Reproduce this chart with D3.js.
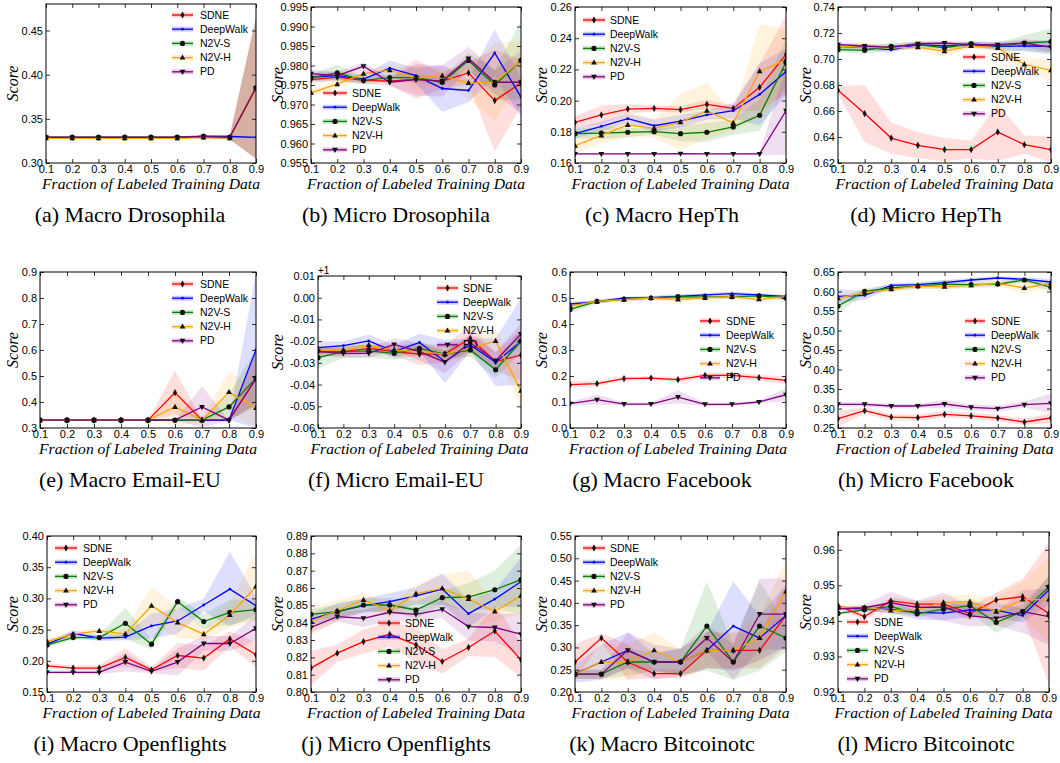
<!DOCTYPE html>
<html>
<head>
<meta charset="utf-8">
<script src="https://cdnjs.cloudflare.com/ajax/libs/d3/7.8.5/d3.min.js"></script>
<style>
    body { margin: 0; background: #fff; }
    svg text { font-family: "Liberation Sans", Arial, sans-serif; fill: #000; }
    .serif { font-family: "Liberation Serif", "Times New Roman", serif !important; }
</style>
</head>
<body>
<div id="chart"></div>
<script>
const fractions = [0.1, 0.2, 0.3, 0.4, 0.5, 0.6, 0.7, 0.8, 0.9];
const methods = ['SDNE', 'DeepWalk', 'N2V-S', 'N2V-H', 'PD'];

// (a) Macro Drosophila
const aMean = [
    [0.329, 0.329, 0.329, 0.329, 0.329, 0.329, 0.330, 0.329, 0.385],
    [0.329, 0.329, 0.329, 0.329, 0.329, 0.329, 0.330, 0.330, 0.329],
    [0.329, 0.329, 0.329, 0.329, 0.329, 0.329, 0.330, 0.329, 0.385],
    [0.328, 0.328, 0.328, 0.328, 0.328, 0.328, 0.329, 0.328, 0.384],
    [0.329, 0.329, 0.329, 0.329, 0.329, 0.329, 0.330, 0.329, 0.385]
];
const aStd = [
    [0.001, 0.001, 0.001, 0.001, 0.001, 0.001, 0.002, 0.002, 0.08],
    [0.001, 0.001, 0.001, 0.001, 0.001, 0.001, 0.001, 0.001, 0.001],
    [0.001, 0.001, 0.001, 0.001, 0.001, 0.001, 0.002, 0.002, 0.08],
    [0.001, 0.001, 0.001, 0.001, 0.001, 0.001, 0.002, 0.002, 0.08],
    [0.001, 0.001, 0.001, 0.001, 0.001, 0.001, 0.002, 0.002, 0.08]
];
const aTicks = [0.30, 0.35, 0.40, 0.45];

// (b) Micro Drosophila
const bMean = [
    [0.9764, 0.9770, 0.9762, 0.9760, 0.9765, 0.9760, 0.9781, 0.9710, 0.9755],
    [0.9770, 0.9774, 0.9765, 0.9793, 0.9774, 0.9741, 0.9736, 0.9832, 0.9719],
    [0.9769, 0.9781, 0.9762, 0.9769, 0.9769, 0.9757, 0.9813, 0.9750, 0.9813],
    [0.9730, 0.9752, 0.9779, 0.9788, 0.9768, 0.9774, 0.9755, 0.9757, 0.9813],
    [0.9779, 0.9774, 0.9798, 0.9757, 0.9764, 0.9760, 0.9818, 0.9757, 0.9757]
];
const bStd = [
    [0.001, 0.001, 0.001, 0.001, 0.005, 0.002, 0.003, 0.013, 0.006],
    [0.001, 0.001, 0.001, 0.002, 0.002, 0.006, 0.003, 0.006, 0.005],
    [0.001, 0.002, 0.001, 0.001, 0.001, 0.001, 0.002, 0.004, 0.01],
    [0.001, 0.001, 0.001, 0.001, 0.003, 0.002, 0.004, 0.01, 0.005],
    [0.001, 0.001, 0.001, 0.001, 0.004, 0.004, 0.003, 0.003, 0.008]
];
const bTicks = [0.955, 0.960, 0.965, 0.970, 0.975, 0.980, 0.985, 0.990, 0.995];

// (c) Macro HepTh
const cMean = [
    [0.1860, 0.1908, 0.1946, 0.1950, 0.1942, 0.1976, 0.1950, 0.2085, 0.2295],
    [0.1788, 0.1835, 0.1884, 0.1839, 0.1869, 0.1908, 0.1935, 0.2040, 0.2186],
    [0.1788, 0.1792, 0.1797, 0.1801, 0.1788, 0.1797, 0.1831, 0.1906, 0.2245],
    [0.1711, 0.1777, 0.1844, 0.1822, 0.1861, 0.1935, 0.1856, 0.2188, 0.2262],
    [0.1658, 0.1658, 0.1658, 0.1658, 0.1660, 0.1658, 0.1658, 0.1658, 0.1935]
];
const cStd = [
    [0.004, 0.006, 0.003, 0.002, 0.002, 0.003, 0.002, 0.015, 0.025],
    [0.003, 0.003, 0.003, 0.004, 0.004, 0.003, 0.005, 0.02, 0.015],
    [0.003, 0.004, 0.003, 0.002, 0.005, 0.006, 0.005, 0.01, 0.015],
    [0.005, 0.005, 0.008, 0.006, 0.018, 0.018, 0.005, 0.03, 0.02],
    [0.0003, 0.0003, 0.0003, 0.0003, 0.0003, 0.0003, 0.0003, 0.001, 0.028]
];
const cTicks = [0.16, 0.18, 0.20, 0.22, 0.24, 0.26];

// (d) Micro HepTh
const dMean = [
    [0.676, 0.658, 0.6392, 0.6336, 0.6303, 0.6303, 0.6438, 0.6341, 0.6303],
    [0.7097, 0.709, 0.707, 0.711, 0.710, 0.711, 0.7097, 0.710, 0.7097],
    [0.7072, 0.7067, 0.7097, 0.711, 0.7085, 0.7118, 0.7097, 0.7123, 0.7133],
    [0.710, 0.709, 0.7085, 0.709, 0.706, 0.710, 0.7085, 0.6958, 0.6913],
    [0.711, 0.710, 0.709, 0.7118, 0.7123, 0.711, 0.711, 0.7123, 0.709]
];
const dStd = [
    [0.003, 0.022, 0.012, 0.01, 0.009, 0.007, 0.022, 0.007, 0.01],
    [0.002, 0.002, 0.002, 0.002, 0.002, 0.002, 0.003, 0.004, 0.005],
    [0.002, 0.003, 0.003, 0.002, 0.003, 0.002, 0.003, 0.006, 0.01],
    [0.002, 0.002, 0.002, 0.002, 0.004, 0.002, 0.003, 0.005, 0.008],
    [0.002, 0.002, 0.002, 0.002, 0.002, 0.002, 0.002, 0.003, 0.004]
];
const dTicks = [0.62, 0.64, 0.66, 0.68, 0.70, 0.72, 0.74];

// (e) Macro Email-EU
const eMean = [
    [0.33, 0.33, 0.33, 0.33, 0.33, 0.436, 0.33, 0.33, 0.49],
    [0.33, 0.33, 0.33, 0.33, 0.33, 0.33, 0.33, 0.33, 0.601],
    [0.33, 0.33, 0.33, 0.33, 0.33, 0.33, 0.33, 0.381, 0.492],
    [0.33, 0.33, 0.33, 0.33, 0.33, 0.381, 0.33, 0.438, 0.377],
    [0.33, 0.33, 0.33, 0.33, 0.33, 0.33, 0.381, 0.33, 0.49]
];
const eStd = [
    [0, 0, 0, 0, 0, 0.085, 0, 0.005, 0.1],
    [0, 0, 0, 0, 0, 0, 0, 0, 0.3],
    [0, 0, 0, 0, 0, 0, 0, 0.05, 0.11],
    [0, 0, 0, 0, 0, 0.07, 0.01, 0.08, 0.07],
    [0, 0, 0, 0, 0, 0, 0.08, 0, 0.1]
];
const eTicks = [0.3, 0.4, 0.5, 0.6, 0.7, 0.8, 0.9];

// (f) Micro Email-EU (values shown with a +1 offset)
const fMean = [
    [-0.0248, -0.0248, -0.0233, -0.0248, -0.0260, -0.0260, -0.0187, -0.0294, -0.0264],
    [-0.0230, -0.0221, -0.0199, -0.0248, -0.0206, -0.0294, -0.0218, -0.0297, -0.0202],
    [-0.0276, -0.0248, -0.0245, -0.0256, -0.0233, -0.0260, -0.0241, -0.0332, -0.0199],
    [-0.0241, -0.0241, -0.0218, -0.0241, -0.0248, -0.0260, -0.0233, -0.0199, -0.0429],
    [-0.0248, -0.0256, -0.0256, -0.0215, -0.0248, -0.0297, -0.0206, -0.0290, -0.0167]
];
const fStd = [
    [0.002, 0.002, 0.002, 0.002, 0.005, 0.004, 0.006, 0.004, 0.012],
    [0.003, 0.002, 0.003, 0.003, 0.004, 0.01, 0.003, 0.011, 0.02],
    [0.005, 0.003, 0.003, 0.003, 0.003, 0.002, 0.003, 0.004, 0.005],
    [0.002, 0.002, 0.002, 0.002, 0.002, 0.003, 0.004, 0.005, 0.008],
    [0.002, 0.002, 0.002, 0.003, 0.004, 0.005, 0.004, 0.004, 0.005]
];
const fTicks = [-0.06, -0.05, -0.04, -0.03, -0.02, -0.01, 0.00, 0.01];

// (g) Macro Facebook
const gMean = [
    [0.1667, 0.1705, 0.190, 0.192, 0.186, 0.2026, 0.2026, 0.1936, 0.183],
    [0.477, 0.485, 0.500, 0.501, 0.506, 0.512, 0.517, 0.512, 0.506],
    [0.456, 0.487, 0.495, 0.500, 0.505, 0.503, 0.505, 0.508, 0.500],
    [0.469, 0.487, 0.494, 0.500, 0.494, 0.501, 0.505, 0.495, 0.505],
    [0.0936, 0.109, 0.092, 0.092, 0.119, 0.091, 0.091, 0.100, 0.128]
];
const gStd = [
    [0.012, 0.01, 0.008, 0.006, 0.01, 0.01, 0.012, 0.012, 0.015],
    [0.01, 0.006, 0.005, 0.006, 0.006, 0.008, 0.008, 0.006, 0.006],
    [0.015, 0.008, 0.008, 0.008, 0.012, 0.008, 0.008, 0.01, 0.008],
    [0.012, 0.008, 0.008, 0.008, 0.008, 0.008, 0.008, 0.012, 0.01],
    [0.006, 0.02, 0.006, 0.006, 0.025, 0.006, 0.006, 0.006, 0.025]
];
const gTicks = [0.0, 0.1, 0.2, 0.3, 0.4, 0.5, 0.6];

// (h) Micro Facebook
const hMean = [
    [0.274, 0.2944, 0.278, 0.2765, 0.285, 0.281, 0.2756, 0.2654, 0.2756],
    [0.5876, 0.590, 0.6158, 0.6175, 0.6226, 0.6295, 0.6346, 0.6312, 0.6243],
    [0.5628, 0.6004, 0.609, 0.614, 0.619, 0.6175, 0.619, 0.6295, 0.6107],
    [0.583, 0.597, 0.6055, 0.614, 0.6124, 0.6158, 0.621, 0.609, 0.621],
    [0.3107, 0.3107, 0.3064, 0.3064, 0.3115, 0.303, 0.2996, 0.3098, 0.3132]
];
const hStd = [
    [0.02, 0.008, 0.008, 0.008, 0.008, 0.008, 0.008, 0.008, 0.012],
    [0.018, 0.012, 0.006, 0.006, 0.006, 0.006, 0.005, 0.006, 0.008],
    [0.018, 0.008, 0.008, 0.008, 0.012, 0.008, 0.008, 0.006, 0.012],
    [0.008, 0.006, 0.006, 0.006, 0.006, 0.006, 0.006, 0.015, 0.01],
    [0.006, 0.006, 0.006, 0.006, 0.01, 0.008, 0.008, 0.008, 0.025]
];
const hTicks = [0.25, 0.30, 0.35, 0.40, 0.45, 0.50, 0.55, 0.60, 0.65];

// (i) Macro Openflights
const iMean = [
    [0.192, 0.1883, 0.1883, 0.2053, 0.1856, 0.2085, 0.2043, 0.2351, 0.2096],
    [0.2266, 0.2441, 0.2362, 0.2378, 0.2559, 0.2638, 0.2894, 0.3149, 0.2883],
    [0.2255, 0.2372, 0.2372, 0.2601, 0.2266, 0.2947, 0.2628, 0.2777, 0.2819],
    [0.2309, 0.2426, 0.2479, 0.2431, 0.2883, 0.2612, 0.2426, 0.2734, 0.3191],
    [0.1814, 0.1814, 0.1814, 0.1979, 0.183, 0.1979, 0.2277, 0.2277, 0.2521]
];
const iStd = [
    [0.004, 0.004, 0.004, 0.015, 0.004, 0.02, 0.02, 0.012, 0.02],
    [0.004, 0.005, 0.005, 0.005, 0.02, 0.02, 0.01, 0.06, 0.015],
    [0.004, 0.004, 0.004, 0.025, 0.008, 0.008, 0.012, 0.02, 0.015],
    [0.004, 0.006, 0.004, 0.008, 0.03, 0.025, 0.01, 0.02, 0.055],
    [0.003, 0.003, 0.003, 0.015, 0.003, 0.022, 0.012, 0.012, 0.02]
];
const iTicks = [0.15, 0.20, 0.25, 0.30, 0.35, 0.40];

// (j) Micro Openflights
const jMean = [
    [0.8138, 0.8224, 0.8291, 0.8333, 0.8272, 0.8176, 0.8257, 0.8352, 0.8186],
    [0.842, 0.8464, 0.8498, 0.8521, 0.8554, 0.8594, 0.8452, 0.8536, 0.8636],
    [0.8448, 0.8464, 0.8502, 0.8502, 0.8473, 0.8544, 0.8548, 0.859, 0.8648],
    [0.8406, 0.8469, 0.8531, 0.8469, 0.8567, 0.8598, 0.8536, 0.8464, 0.8556],
    [0.8372, 0.8435, 0.8425, 0.846, 0.8448, 0.8477, 0.8377, 0.8372, 0.8333]
];
const jStd = [
    [0.01, 0.005, 0.007, 0.007, 0.01, 0.007, 0.005, 0.015, 0.01],
    [0.003, 0.005, 0.004, 0.005, 0.005, 0.009, 0.008, 0.005, 0.014],
    [0.003, 0.004, 0.004, 0.004, 0.005, 0.004, 0.008, 0.011, 0.02],
    [0.008, 0.006, 0.004, 0.004, 0.005, 0.008, 0.016, 0.006, 0.01],
    [0.003, 0.003, 0.005, 0.005, 0.004, 0.005, 0.008, 0.008, 0.012]
];
const jTicks = [0.80, 0.81, 0.82, 0.83, 0.84, 0.85, 0.86, 0.87, 0.88, 0.89];

// (k) Macro Bitcoinotc
const kMean = [
    [0.2673, 0.3211, 0.2673, 0.2411, 0.2411, 0.2934, 0.2934, 0.2934, 0.3719],
    [0.2411, 0.2673, 0.2934, 0.2673, 0.2673, 0.2934, 0.348, 0.3211, 0.3719],
    [0.240, 0.240, 0.2673, 0.2673, 0.2673, 0.348, 0.2673, 0.348, 0.3211],
    [0.240, 0.2673, 0.2673, 0.2934, 0.2673, 0.2934, 0.2934, 0.3211, 0.4257],
    [0.240, 0.240, 0.2934, 0.2673, 0.2673, 0.3211, 0.2673, 0.3749, 0.3749]
];
const kStd = [
    [0.04, 0.01, 0.04, 0.01, 0.01, 0.04, 0.04, 0.04, 0.07],
    [0.02, 0.04, 0.04, 0.02, 0.03, 0.04, 0.1, 0.05, 0.07],
    [0.01, 0.01, 0.03, 0.02, 0.03, 0.1, 0.04, 0.1, 0.03],
    [0.01, 0.04, 0.04, 0.04, 0.03, 0.04, 0.04, 0.05, 0.07],
    [0.01, 0.01, 0.04, 0.04, 0.03, 0.03, 0.04, 0.08, 0.08]
];
const kTicks = [0.20, 0.25, 0.30, 0.35, 0.40, 0.45, 0.50, 0.55];

// (l) Micro Bitcoinotc
const lMean = [
    [0.9443, 0.9412, 0.9456, 0.9447, 0.9447, 0.9421, 0.9459, 0.9468, 0.9421],
    [0.9436, 0.9434, 0.9432, 0.9424, 0.9422, 0.9431, 0.943, 0.9415, 0.9487],
    [0.9421, 0.9431, 0.9441, 0.942, 0.9433, 0.9443, 0.9396, 0.9426, 0.9496],
    [0.9437, 0.9438, 0.9429, 0.9432, 0.9452, 0.9454, 0.9426, 0.946, 0.946],
    [0.9434, 0.9437, 0.9451, 0.9438, 0.9439, 0.9414, 0.9407, 0.9426, 0.9412]
];
const lStd = [
    [0.0005, 0.001, 0.001, 0.001, 0.001, 0.002, 0.002, 0.005, 0.02],
    [0.0005, 0.0005, 0.001, 0.002, 0.002, 0.002, 0.002, 0.002, 0.004],
    [0.0005, 0.0005, 0.001, 0.001, 0.001, 0.002, 0.003, 0.002, 0.003],
    [0.0005, 0.0005, 0.001, 0.002, 0.002, 0.002, 0.004, 0.005, 0.012],
    [0.0005, 0.001, 0.003, 0.002, 0.004, 0.003, 0.002, 0.006, 0.008]
];
const lTicks = [0.92, 0.93, 0.94, 0.95, 0.96];

const panels = [
    { id: 'a', caption: '(a) Macro Drosophila', mean: aMean, std: aStd, ticks: aTicks, domain: [0.30, 0.48], fmt: '.2f' },
    { id: 'b', caption: '(b) Micro Drosophila', mean: bMean, std: bStd, ticks: bTicks, domain: [0.955, 0.995], fmt: '.3f' },
    { id: 'c', caption: '(c) Macro HepTh', mean: cMean, std: cStd, ticks: cTicks, domain: [0.16, 0.26], fmt: '.2f' },
    { id: 'd', caption: '(d) Micro HepTh', mean: dMean, std: dStd, ticks: dTicks, domain: [0.62, 0.74], fmt: '.2f' },
    { id: 'e', caption: '(e) Macro Email-EU', mean: eMean, std: eStd, ticks: eTicks, domain: [0.3, 0.9], fmt: '.1f' },
    { id: 'f', caption: '(f) Micro Email-EU', mean: fMean, std: fStd, ticks: fTicks, domain: [-0.06, 0.01], fmt: '.2f', offset: '+1' },
    { id: 'g', caption: '(g) Macro Facebook', mean: gMean, std: gStd, ticks: gTicks, domain: [0.0, 0.6], fmt: '.1f' },
    { id: 'h', caption: '(h) Micro Facebook', mean: hMean, std: hStd, ticks: hTicks, domain: [0.25, 0.65], fmt: '.2f' },
    { id: 'i', caption: '(i) Macro Openflights', mean: iMean, std: iStd, ticks: iTicks, domain: [0.15, 0.40], fmt: '.2f' },
    { id: 'j', caption: '(j) Micro Openflights', mean: jMean, std: jStd, ticks: jTicks, domain: [0.80, 0.89], fmt: '.2f' },
    { id: 'k', caption: '(k) Macro Bitcoinotc', mean: kMean, std: kStd, ticks: kTicks, domain: [0.20, 0.55], fmt: '.2f' },
    { id: 'l', caption: '(l) Micro Bitcoinotc', mean: lMean, std: lStd, ticks: lTicks, domain: [0.92, 0.965], fmt: '.2f' }
];

// layout: plot boxes [left, top, right, bottom]
const boxes = [
    [46, 4, 256, 163], [311, 7, 521, 163], [575, 7, 786, 163], [838, 7, 1051, 163],
    [40, 272, 256, 428], [318, 276, 521, 428], [570, 272, 786, 428], [838, 272, 1051, 428],
    [47, 536, 256, 692], [311, 536, 521, 692], [575, 536, 786, 692], [838, 532, 1049, 692]
];
// legend: [lineStart, lineEnd, textX, firstRowY]
const legendSpots = [
    [172, 193, 200, 15], [323, 347, 352, 93], [583, 605, 610, 20], [963, 985, 991, 57],
    [172, 193, 200, 284], [437, 458, 463, 288], [700, 720, 726, 321], [965, 985, 991, 321],
    [55, 77, 83, 548], [378, 400, 405, 623], [583, 605, 610, 548], [847, 868, 874, 622]
];
const yLabelX = [13, 278, 542, 806];
const captionX = [130, 396, 662, 926];
const colors = ['#ff0000', '#0000ff', '#008000', '#ffa500', '#800080'];
const markerPaths = [
    'M0,-3.6L2,0L0,3.6L-2,0Z',
    'M1.4,0A1.4,1.4 0 1,1 -1.4,0A1.4,1.4 0 1,1 1.4,0Z',
    'M2.6,0A2.6,2.6 0 1,1 -2.6,0A2.6,2.6 0 1,1 2.6,0Z',
    'M0,-3.2L2.9,2L-2.9,2Z',
    'M0,3.2L2.9,-2L-2.9,-2Z'
];
const markerFill = ['#111', '#0000ff', '#111', '#111', '#111'];

const svg = d3.select('#chart')
    .append('svg')
    .attr('width', 1060)
    .attr('height', 763);

panels.forEach((p, i) => drawPanel(p, boxes[i], legendSpots[i], yLabelX[i % 4], captionX[i % 4]));

function drawPanel(p, box, leg, ylx, capx) {
    const [left, top, right, bottom] = box;
    const x = d3.scaleLinear().domain([0.1, 0.9]).range([left, right]);
    const y = d3.scaleLinear().domain(p.domain).range([bottom, top]);
    const g = svg.append('g').attr('class', 'panel-' + p.id);

    g.append('clipPath')
        .attr('id', 'clip-' + p.id)
        .append('rect')
        .attr('x', left).attr('y', top)
        .attr('width', right - left).attr('height', bottom - top);

    const plot = g.append('g').attr('clip-path', `url(#clip-${p.id})`);

    const area = d3.area()
        .x((d, i) => x(fractions[i]))
        .y0(d => y(d[0] - d[1]))
        .y1(d => y(d[0] + d[1]));

    methods.forEach((m, k) => {
        const rows = p.mean[k].map((v, i) => [v, p.std[k][i]]);
        plot.append('path')
            .datum(rows)
            .attr('d', area)
            .attr('fill', colors[k])
            .attr('fill-opacity', 0.13)
            .attr('stroke', 'none');
    });

    const line = d3.line().x((d, i) => x(fractions[i])).y(d => y(d));

    methods.forEach((m, k) => {
        plot.append('path')
            .datum(p.mean[k])
            .attr('d', line)
            .attr('fill', 'none')
            .attr('stroke', colors[k])
            .attr('stroke-width', 1.3);
        plot.selectAll(null)
            .data(p.mean[k])
            .enter()
            .append('path')
            .attr('transform', (d, i) => `translate(${x(fractions[i])},${y(d)})`)
            .attr('d', markerPaths[k])
            .attr('fill', markerFill[k]);
    });

    // frame + inward ticks on all sides
    const fmt = d3.format(p.fmt);
    const bottomAxis = g.append('g')
        .attr('transform', `translate(0,${bottom})`)
        .call(d3.axisBottom(x).tickValues(fractions).tickFormat(d3.format('.1f')).tickSizeInner(-4).tickSizeOuter(0).tickPadding(2.5));
    g.append('g')
        .attr('transform', `translate(0,${top})`)
        .call(d3.axisTop(x).tickValues(fractions).tickFormat('').tickSizeInner(-4).tickSizeOuter(0));
    const leftAxis = g.append('g')
        .attr('transform', `translate(${left},0)`)
        .call(d3.axisLeft(y).tickValues(p.ticks).tickFormat(d => fmt(d).replace('\u2212', '-')).tickSizeInner(-4).tickSizeOuter(0).tickPadding(3));
    g.append('g')
        .attr('transform', `translate(${right},0)`)
        .call(d3.axisRight(y).tickValues(p.ticks).tickFormat('').tickSizeInner(-4).tickSizeOuter(0));

    g.selectAll('.domain').remove();
    g.selectAll('.tick line').attr('stroke', '#000').attr('stroke-width', 0.8);
    [bottomAxis, leftAxis].forEach(a => a.selectAll('text')
        .attr('font-family', '"Liberation Sans", Arial, sans-serif')
        .attr('font-size', 11)
        .attr('fill', '#000'));

    g.append('rect')
        .attr('x', left).attr('y', top)
        .attr('width', right - left).attr('height', bottom - top)
        .attr('fill', 'none')
        .attr('stroke', '#000')
        .attr('stroke-width', 1);

    if (p.offset) {
        g.append('text')
            .attr('x', left)
            .attr('y', top - 2)
            .attr('font-size', 10)
            .text(p.offset);
    }

    // axis titles
    g.append('text')
        .attr('class', 'serif')
        .attr('x', (left + right) / 2)
        .attr('y', bottom + 25.5)
        .attr('text-anchor', 'middle')
        .attr('font-style', 'italic')
        .attr('font-size', 14)
        .attr('textLength', 218)
        .attr('lengthAdjust', 'spacingAndGlyphs')
        .text('Fraction of Labeled Training Data');

    g.append('text')
        .attr('class', 'serif')
        .attr('transform', `translate(${ylx + 5},${(top + bottom) / 2}) rotate(-90)`)
        .attr('text-anchor', 'middle')
        .attr('font-style', 'italic')
        .attr('font-size', 16)
        .text('Score');

    g.append('text')
        .attr('class', 'serif')
        .attr('x', capx)
        .attr('y', bottom + 59)
        .attr('text-anchor', 'middle')
        .attr('font-size', 22)
        .text(p.caption);

    // legend
    const [lx0, lx1, tx, ly0] = leg;
    methods.forEach((m, k) => {
        const ly = ly0 + k * 14.2;
        g.append('rect')
            .attr('x', lx0).attr('y', ly - 2.5)
            .attr('width', lx1 - lx0).attr('height', 5)
            .attr('fill', colors[k])
            .attr('fill-opacity', 0.2);
        g.append('line')
            .attr('x1', lx0).attr('x2', lx1)
            .attr('y1', ly).attr('y2', ly)
            .attr('stroke', colors[k])
            .attr('stroke-width', 1.3);
        g.append('path')
            .attr('transform', `translate(${(lx0 + lx1) / 2},${ly})`)
            .attr('d', markerPaths[k])
            .attr('fill', markerFill[k]);
        g.append('text')
            .attr('x', tx)
            .attr('y', ly)
            .attr('dy', '0.35em')
            .attr('font-size', 10.5)
            .text(m);
    });
}
</script>
</body>
</html>
